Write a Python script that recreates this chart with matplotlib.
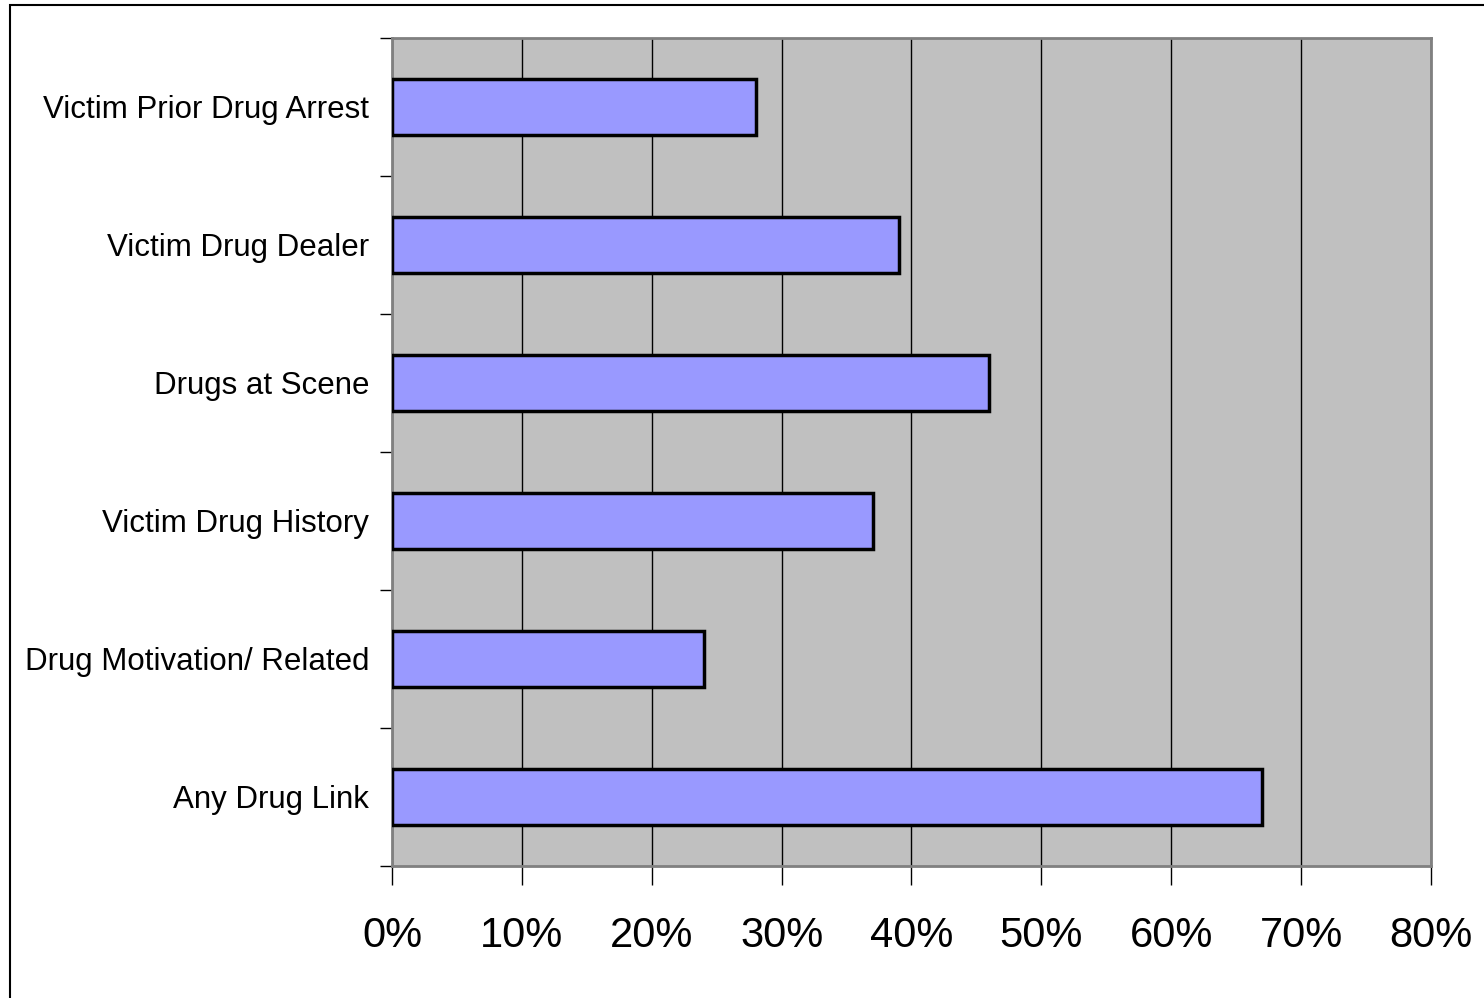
import matplotlib.pyplot as plt
from matplotlib.patches import Rectangle
from matplotlib.ticker import MultipleLocator, FuncFormatter

categories = ["Victim Prior Drug Arrest", "Victim Drug Dealer", "Drugs at Scene",
              "Victim Drug History", "Drug Motivation/ Related", "Any Drug Link"]
values = [28, 39, 46, 37, 24, 67]

plt.rcParams['font.family'] = ['Liberation Sans', 'DejaVu Sans']

W, H = 1484, 998
fig = plt.figure(figsize=(W / 100, H / 100), dpi=100)
ax = fig.add_axes([392 / W, 1 - 866 / H, (1431 - 392) / W, (866 - 38) / H])

# outer frame of the chart area (runs off the right and bottom edges)
fig.patches.append(Rectangle((10 / W, -0.05), 1.1, (1 - 5 / H) + 0.05,
                             transform=fig.transFigure, fill=False,
                             edgecolor='black', linewidth=1.5))

ax.set_facecolor('#c0c0c0')
for s in ax.spines.values():
    s.set_color('#808080')
    s.set_linewidth(2)

ypos = list(range(len(categories)))
ax.barh(ypos, values, height=0.4, color='#9999ff', edgecolor='black', linewidth=2.5, zorder=3)
ax.set_ylim(len(categories) - 0.5, -0.5)
ax.set_xlim(0, 80)

ax.xaxis.set_major_locator(MultipleLocator(10))
ax.xaxis.set_major_formatter(FuncFormatter(lambda v, p: f"{v:.0f}%"))
ax.grid(axis='x', color='black', linewidth=1, zorder=1)
ax.set_axisbelow(True)

ax.set_yticks(ypos)
ax.set_yticklabels(categories, fontsize=22.5)
ax.set_yticks([i - 0.5 for i in range(len(categories) + 1)], minor=True)
ax.tick_params(axis='y', which='major', length=0, pad=16.5)
ax.tick_params(axis='y', which='minor', length=9, width=1, color='black')
ax.tick_params(axis='x', length=14, width=1, color='black', labelsize=30, pad=22)

fig.savefig("out.png", dpi=100)
